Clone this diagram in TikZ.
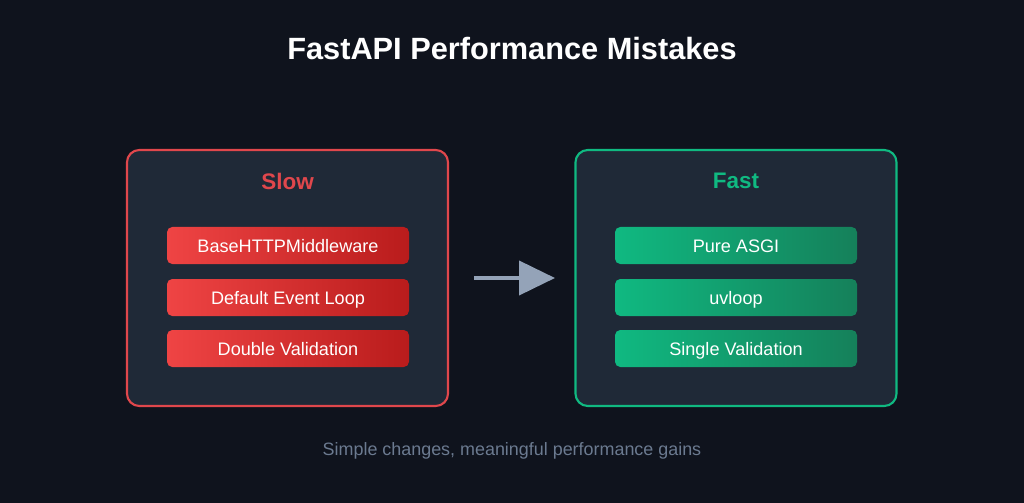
\documentclass[tikz,border=0pt]{standalone}
\usepackage{fontspec}
\setmainfont{Liberation Sans}
\usetikzlibrary{arrows.meta}
\definecolor{bg}{HTML}{0F131D}
\definecolor{panel}{HTML}{1F2937}
\definecolor{redb}{HTML}{E0474C}
\definecolor{greenb}{HTML}{10B981}
\definecolor{redl}{HTML}{EF4444}
\definecolor{redr}{HTML}{B91C1C}
\definecolor{greenl}{HTML}{10B981}
\definecolor{greenr}{HTML}{15805A}
\definecolor{arr}{HTML}{94A3B8}
\definecolor{foot}{HTML}{6B7A90}
\tikzset{
 panelbox/.style={draw=#1, line width=1.2pt, fill=panel, rounded corners=7pt, minimum width=321*0.02cm, minimum height=256*0.02cm},
 pill/.style={rounded corners=3pt, left color=#1l, right color=#1r, minimum width=242*0.02cm, minimum height=37*0.02cm, text=white, font=\fontsize{10.3}{12}\selectfont, text depth=0.3ex, text height=1.9ex},
}
\begin{document}
\begin{tikzpicture}[x=0.02cm,y=-0.02cm]
\fill[bg] (0,0) rectangle (1024,503);
\useasboundingbox (0,0) rectangle (1024,503);
\node[text=white,font=\bfseries\fontsize{17.5}{20}\selectfont] (title) at (512,49) {FastAPI Performance Mistakes};
\node[panelbox=redb] (slow) at (287.5,278) {};
\node[panelbox=greenb] (fast) at (736,278) {};
\node[text=redb,font=\bfseries\fontsize{12.8}{15}\selectfont] (slowt) at (287.5,181) {Slow};
\node[text=greenb,font=\bfseries\fontsize{12.8}{15}\selectfont] (fastt) at (736,181) {Fast};
\node[pill=red] (s1) at (288,245.5) {BaseHTTPMiddleware};
\node[pill=red] (s2) at (288,297.5) {Default Event Loop};
\node[pill=red] (s3) at (288,348.5) {Double Validation};
\node[pill=green] (f1) at (736,245.5) {Pure ASGI};
\node[pill=green] (f2) at (736,297.5) {uvloop};
\node[pill=green] (f3) at (736,348.5) {Single Validation};
\coordinate (a0) at (474,278);
\coordinate (a1) at (555,278);
\draw[arr, line width=2.3pt, -{Triangle[length=36*0.02cm,width=34*0.02cm]}] (a0) -- (a1);
\node[text=foot,font=\fontsize{10.2}{12}\selectfont] (footer) at (512,451) {Simple changes, meaningful performance gains};
\end{tikzpicture}
\end{document}
